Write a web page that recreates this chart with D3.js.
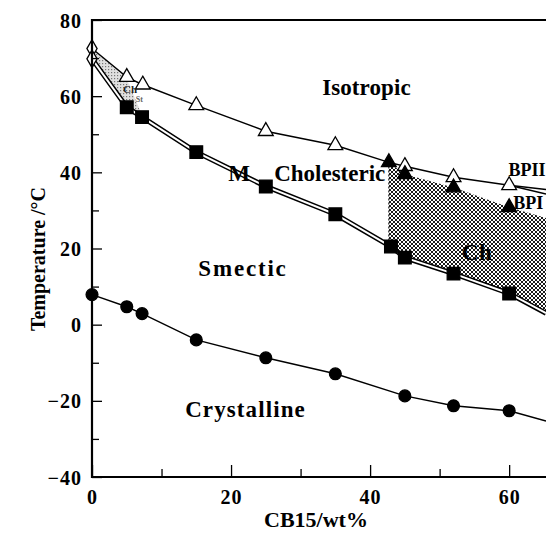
<!DOCTYPE html>
<html>
<head>
<meta charset="utf-8">
<script src="https://cdn.jsdelivr.net/npm/d3@7"></script>
<style>
  body { margin: 0; background: #fff; }
  text { font-family: "Liberation Serif", "DejaVu Serif", serif; font-weight: bold; }
</style>
</head>
<body>
<div id="chart"></div>
<script>
// isotropic boundary (open triangles), starts at upper diamond
const isoX = [0, 5, 7.3, 15, 25, 35, 42.7, 45, 52, 60, 65.3];
const isoT = [72.5, 65, 63, 57.6, 50.8, 47.1, 42.6, 41.6, 38.7, 36.6, 35.5];
const openTriX = [5, 7.3, 15, 25, 35, 45, 52, 60];
const openTriT = [65, 63, 57.6, 50.8, 47.1, 41.6, 38.7, 36.6];

// BPII / BPI boundary beyond 60
const bpX = [60, 65.3];
const bpT = [36.6, 34.3];

// filled triangles (Ch -> BP)
const fillTriX = [42.7, 45, 52, 60];
const fillTriT = [42.6, 39.5, 36, 30.8];

// diamonds at pure component
const diaX = [0, 0];
const diaT = [72.5, 69.8];

// smectic boundary (filled squares, double line)
const smX = [0, 5, 7.2, 15, 25, 35, 43, 45, 52, 60, 65.3];
const smT = [69.8, 57.1, 54.5, 45.3, 36.3, 29, 20.5, 17.6, 13.4, 8.2, 3];
const sqX = [5, 7.2, 15, 25, 35, 43, 45, 52, 60];
const sqT = [57.1, 54.5, 45.3, 36.3, 29, 20.5, 17.6, 13.4, 8.2];

// crystalline boundary (filled circles)
const crX = [0, 5, 7.2, 15, 25, 35, 45, 52, 60, 65.3];
const crT = [7.9, 4.7, 2.9, -4, -8.7, -12.9, -18.7, -21.3, -22.6, -25.3];
const circX = [0, 5, 7.2, 15, 25, 35, 45, 52, 60];
const circT = [7.9, 4.7, 2.9, -4, -8.7, -12.9, -18.7, -21.3, -22.6];

// hatched Ch region
const hatchX = [42.7, 45, 52, 60, 65.3, 65.3, 60, 52, 45, 43, 42.7];
const hatchT = [42.6, 39.5, 36, 30.8, 28, 3, 8.2, 13.4, 17.6, 20.5, 21];

// stippled wedge near x = 0
const shadeX = [0, 5, 7.2, 5, 0];
const shadeT = [72.5, 64.5, 55, 57.1, 69.8];

const majorY = [-40, -20, 0, 20, 40, 60, 80];
const minorY = [-30, -10, 10, 30, 50, 70];
const majorX = [0, 20, 40, 60];
const minorX = [10, 30, 50];

const labels = ["Isotropic", "Cholesteric", "M", "Smectic", "Crystalline", "Ch", "BPII", "BPI", "Ch", "St"];
const labelX = [33.1, 26.2, 19.6, 15.3, 13.4, 53.2, 59.9, 60.6, 4.46, 6.3];
const labelT = [60.3, 37.6, 37.8, 12.9, -24.2, 16.9, 39, 30.5, 60.8, 58.4];

const labelSize = [23, 23, 23, 23, 23, 23, 18, 18, 11, 8];
const labelSpacing = [0.1, 0, 0, 1.8, 1.1, 0.5, 0, 0, 0, 0];
const labelFill = ["#000", "#000", "#000", "#000", "#000", "#000", "#000", "#000", "#222", "#666"];

const W = 546, H = 536;
const margin = { top: 20, left: 92 };
const width = 454, height = 457;

const svg = d3.select("#chart")
    .append("svg")
    .attr("width", W)
    .attr("height", H);

const x = d3.scaleLinear().domain([0, 65.3]).range([margin.left, margin.left + width]);
const y = d3.scaleLinear().domain([-40, 80]).range([margin.top + height, margin.top]);

const defs = svg.append("defs");
const hatch = defs.append("pattern")
    .attr("id", "hatch")
    .attr("patternUnits", "userSpaceOnUse")
    .attr("width", 4).attr("height", 4);
hatch.append("rect").attr("width", 4).attr("height", 4).attr("fill", "#fff");
hatch.append("path").attr("d", "M0,0L4,4M4,0L0,4").attr("stroke", "#000").attr("stroke-width", 0.9);

const stipple = defs.append("pattern")
    .attr("id", "stipple")
    .attr("patternUnits", "userSpaceOnUse")
    .attr("width", 3).attr("height", 3);
stipple.append("rect").attr("width", 3).attr("height", 3).attr("fill", "#e0e0e0");
stipple.append("rect").attr("width", 1.2).attr("height", 1.2).attr("fill", "#777");

const line = d3.line().x(d => x(d[0])).y(d => y(d[1]));
const zip = (a, b) => a.map((v, i) => [v, b[i]]);

// regions
svg.append("path")
    .attr("d", line(zip(hatchX, hatchT)) + "Z")
    .attr("fill", "url(#hatch)");
svg.append("line")
    .attr("x1", x(hatchX[0])).attr("x2", x(hatchX[0]))
    .attr("y1", y(hatchT[0])).attr("y2", y(hatchT[hatchT.length - 1]))
    .attr("stroke", "#000").attr("stroke-width", 1).attr("stroke-dasharray", "2,2");
svg.append("path")
    .attr("d", line(zip(shadeX, shadeT)) + "Z")
    .attr("fill", "url(#stipple)");

// boundaries
svg.append("path").attr("d", line(zip(isoX, isoT)))
    .attr("fill", "none").attr("stroke", "#000").attr("stroke-width", 1.4);
svg.append("path").attr("d", line(zip(bpX, bpT)))
    .attr("fill", "none").attr("stroke", "#000").attr("stroke-width", 1.4);
svg.append("path").attr("d", line(zip(smX, smT)))
    .attr("fill", "none").attr("stroke", "#000").attr("stroke-width", 5);
svg.append("path").attr("d", line(zip(smX, smT)))
    .attr("fill", "none").attr("stroke", "#fff").attr("stroke-width", 2);
svg.append("path").attr("d", line(zip(crX, crT)))
    .attr("fill", "none").attr("stroke", "#000").attr("stroke-width", 1.4);

// markers
function marks(xs, ts, type, size, fill) {
    svg.append("g").selectAll("path")
        .data(zip(xs, ts))
        .join("path")
        .attr("transform", d => `translate(${x(d[0])},${y(d[1])})`)
        .attr("d", d3.symbol().type(type).size(size))
        .attr("fill", fill)
        .attr("stroke", "#000")
        .attr("stroke-width", 1.3);
}
marks(diaX, diaT, d3.symbolDiamond, 90, "#fff");
marks(openTriX, openTriT, d3.symbolTriangle, 95, "#fff");
marks(fillTriX, fillTriT, d3.symbolTriangle, 95, "#000");
marks(sqX, sqT, d3.symbolSquare, 160, "#000");
marks(circX, circT, d3.symbolCircle, 110, "#000");

// region labels
svg.append("g").selectAll("text")
    .data(labels)
    .join("text")
    .attr("x", (d, i) => x(labelX[i]))
    .attr("y", (d, i) => y(labelT[i]))
    .attr("text-anchor", "start")
    .attr("fill", (d, i) => labelFill[i])
    .style("font-size", (d, i) => labelSize[i] + "px")
    .style("letter-spacing", (d, i) => labelSpacing[i] + "px")
    .text(d => d);

// axes
const axisY = svg.append("g")
    .attr("transform", `translate(${margin.left},0)`)
    .call(d3.axisLeft(y).tickValues(majorY).tickSize(-10).tickPadding(10).tickFormat(d3.format("d")));
const axisYm = svg.append("g")
    .attr("transform", `translate(${margin.left},0)`)
    .call(d3.axisLeft(y).tickValues(minorY).tickSize(-7).tickFormat(""));
const axisX = svg.append("g")
    .attr("transform", `translate(0,${margin.top + height})`)
    .call(d3.axisBottom(x).tickValues(majorX).tickSize(-12).tickPadding(13).tickFormat(d3.format("d")));
const axisXm = svg.append("g")
    .attr("transform", `translate(0,${margin.top + height})`)
    .call(d3.axisBottom(x).tickValues(minorX).tickSize(-8).tickFormat(""));

[axisY, axisYm, axisX, axisXm].forEach(g => {
    g.select(".domain").remove();
    g.selectAll(".tick line").attr("stroke", "#000").attr("stroke-width", 1.3);
    g.selectAll("text").style("font-size", "20px").attr("fill", "#000")
        .style("letter-spacing", "1px")
        .style("font-family", "'Liberation Serif', serif").style("font-weight", "bold");
});
axisY.selectAll("text").attr("dy", "0.35em");

// frame: left, bottom, top
svg.append("path")
    .attr("d", `M${margin.left + width},${margin.top}H${margin.left}V${margin.top + height}H${margin.left + width}`)
    .attr("fill", "none").attr("stroke", "#000").attr("stroke-width", 2.2);

// axis titles
svg.append("text")
    .attr("text-anchor", "middle")
    .attr("x", 316).attr("y", 527)
    .style("font-size", "22px")
    .text("CB15/wt%");

svg.append("text")
    .attr("text-anchor", "middle")
    .attr("transform", "rotate(-90)")
    .attr("x", -259).attr("y", 45)
    .style("font-size", "20px")
    .text("Temperature /°C");
</script>
</body>
</html>
